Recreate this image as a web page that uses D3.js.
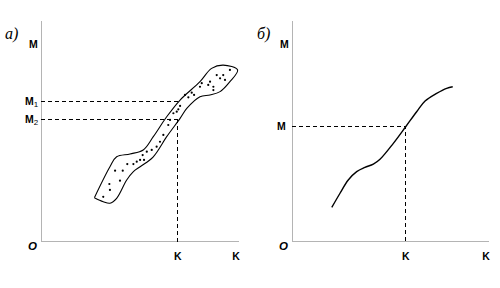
<!DOCTYPE html>
<head>
  <meta charset="utf-8">
  <style>
    body { margin: 0; background: #fff; }
    .lbl { font-family: 'Liberation Sans', Arial, sans-serif; font-weight: bold; font-size: 10.5px; fill: #000; }
    .ttl { font-family: 'Liberation Serif', 'Times New Roman', serif; font-style: italic; font-size: 16px; fill: #000; }
    .axis path, .axis line { stroke: #b4b4b4; shape-rendering: crispEdges; }
    .guide { shape-rendering: crispEdges; }
  </style>
</head>
<body>
  <script src="https://cdn.jsdelivr.net/npm/d3@7"></script>
  <script>
    // panel a: band outline (K, M), dots inside, guide values
    const bandUpper = [[27.1,19.6],[35.0,33.6],[38.4,38.1],[45.2,39.4],[51.9,41.2],[57.0,47.2],[63.8,56.2],[70.6,63.8],[80.7,72.1],[86.6,78.1],[92.5,79.6],[99.8,77.4]];
    const bandLower = [[95.9,72.1],[90.9,67.6],[85.8,66.1],[80.7,65.3],[74.0,60.0],[70.6,55.5],[63.8,47.2],[57.0,38.1],[50.3,33.6],[46.9,31.4],[43.5,27.6],[38.4,19.3],[35.0,17.1],[31.6,17.8],[27.1,19.6]];
    const dots = [[31.6,20.0],[35.0,23.1],[34.7,25.8],[37.6,31.8],[41.5,31.8],[40.1,27.3],[43.8,34.8],[46.9,34.8],[48.6,35.9],[50.3,36.7],[51.6,38.9],[52.3,36.7],[53.7,40.4],[56.2,41.2],[58.7,42.7],[60.4,44.9],[62.1,48.0],[64.6,52.5],[65.5,54.8],[67.2,57.8],[68.9,58.5],[69.7,59.6],[70.6,61.1],[73.1,66.1],[74.8,65.0],[76.5,67.1],[77.7,66.1],[80.7,69.8],[81.6,71.4],[84.9,70.6],[85.8,72.1],[87.5,69.8],[87.5,68.3],[89.2,75.1],[90.9,73.6],[92.5,75.1],[93.4,72.9],[95.9,77.4]];
    const guideA = {m1: 62.9, m2: 55.2, k: 69.5};

    // panel б: single curve
    const curveB = [[20.3,15.2],[24.5,21.6],[28.7,27.6],[33.0,31.4],[37.2,33.3],[41.5,34.8],[44.9,37.0],[51.7,44.2],[58.0,51.7],[63.6,58.5],[67.9,63.3],[73.8,66.8],[78.9,69.1],[82.0,69.8]];
    const guideB = {m: 51.7, k: 58.0};

    const svg = d3.select("body").append("svg").attr("width", 500).attr("height", 288);

    function panel(x0, x1, title, titleX) {
      const g = svg.append("g");
      const x = d3.scaleLinear().domain([0, 100]).range([x0, x1]);
      const y = d3.scaleLinear().domain([0, 100]).range([241, 20]);
      g.append("g").attr("class", "axis").attr("transform", "translate(0,241)")
        .call(d3.axisBottom(x).tickValues([]).tickSizeOuter(0));
      g.append("g").attr("class", "axis").attr("transform", "translate(" + x0 + ",0)")
        .call(d3.axisLeft(y).tickValues([]).tickSizeOuter(0));
      g.append("text").attr("class", "ttl").attr("x", titleX).attr("y", 39).text(title);
      g.append("text").attr("class", "lbl").attr("x", x0 - 12).attr("y", 47.5).text("M");
      g.append("text").attr("class", "lbl").attr("x", x0 - 13).attr("y", 250)
        .style("font-style", "italic").style("font-size", "11.5px").text("O");
      g.append("text").attr("class", "lbl").attr("x", x1 - 2).attr("y", 259.5)
        .attr("text-anchor", "middle").text("K");
      return {g, x, y};
    }

    function dashed(g, pts) {
      g.append("path").attr("class", "guide").attr("d", d3.line()(pts))
        .attr("fill", "none").attr("stroke", "#000").attr("stroke-width", 1)
        .attr("stroke-dasharray", "4,3");
    }

    // ---- panel a ----
    const a = panel(41, 238, "а)", 5);
    const ax = a.x, ay = a.y;
    dashed(a.g, [[ax(0), ay(guideA.m1)], [ax(71.2), ay(guideA.m1)]]);
    dashed(a.g, [[ax(0), ay(guideA.m2)], [ax(guideA.k), ay(guideA.m2)]]);
    dashed(a.g, [[ax(guideA.k), ay(guideA.m2)], [ax(guideA.k), ay(-1)]]);
    a.g.append("path")
      .attr("d", d3.line().x(d => ax(d[0])).y(d => ay(d[1])).curve(d3.curveCatmullRom)(bandUpper.concat(bandLower)))
      .attr("fill", "none").attr("stroke", "#000").attr("stroke-width", 1.1);
    a.g.selectAll("circle").data(dots).enter().append("circle")
      .attr("cx", d => ax(d[0])).attr("cy", d => ay(d[1])).attr("r", 1.1).attr("fill", "#000");
    [["1", guideA.m1], ["2", guideA.m2]].forEach(([s, v]) => {
      const t = a.g.append("text").attr("class", "lbl").attr("x", 25).attr("y", ay(v) + 3.5).text("M");
      t.append("tspan").attr("dy", 2).style("font-size", "8px").style("font-weight", "normal").text(s);
    });
    a.g.append("text").attr("class", "lbl").attr("x", ax(guideA.k)).attr("y", 259.5)
      .attr("text-anchor", "middle").text("K");

    // ---- panel б ----
    const b = panel(292, 488, "б)", 257);
    const bx = b.x, by = b.y;
    dashed(b.g, [[bx(0), by(guideB.m)], [bx(guideB.k), by(guideB.m)], [bx(guideB.k), by(0)]]);
    b.g.append("path")
      .attr("d", d3.line().x(d => bx(d[0])).y(d => by(d[1])).curve(d3.curveCatmullRom)(curveB))
      .attr("fill", "none").attr("stroke", "#000").attr("stroke-width", 1.4);
    b.g.append("text").attr("class", "lbl").attr("x", 277).attr("y", by(guideB.m) + 3.5).text("M");
    b.g.append("text").attr("class", "lbl").attr("x", bx(guideB.k)).attr("y", 259.5)
      .attr("text-anchor", "middle").text("K");
  </script>
</body>
